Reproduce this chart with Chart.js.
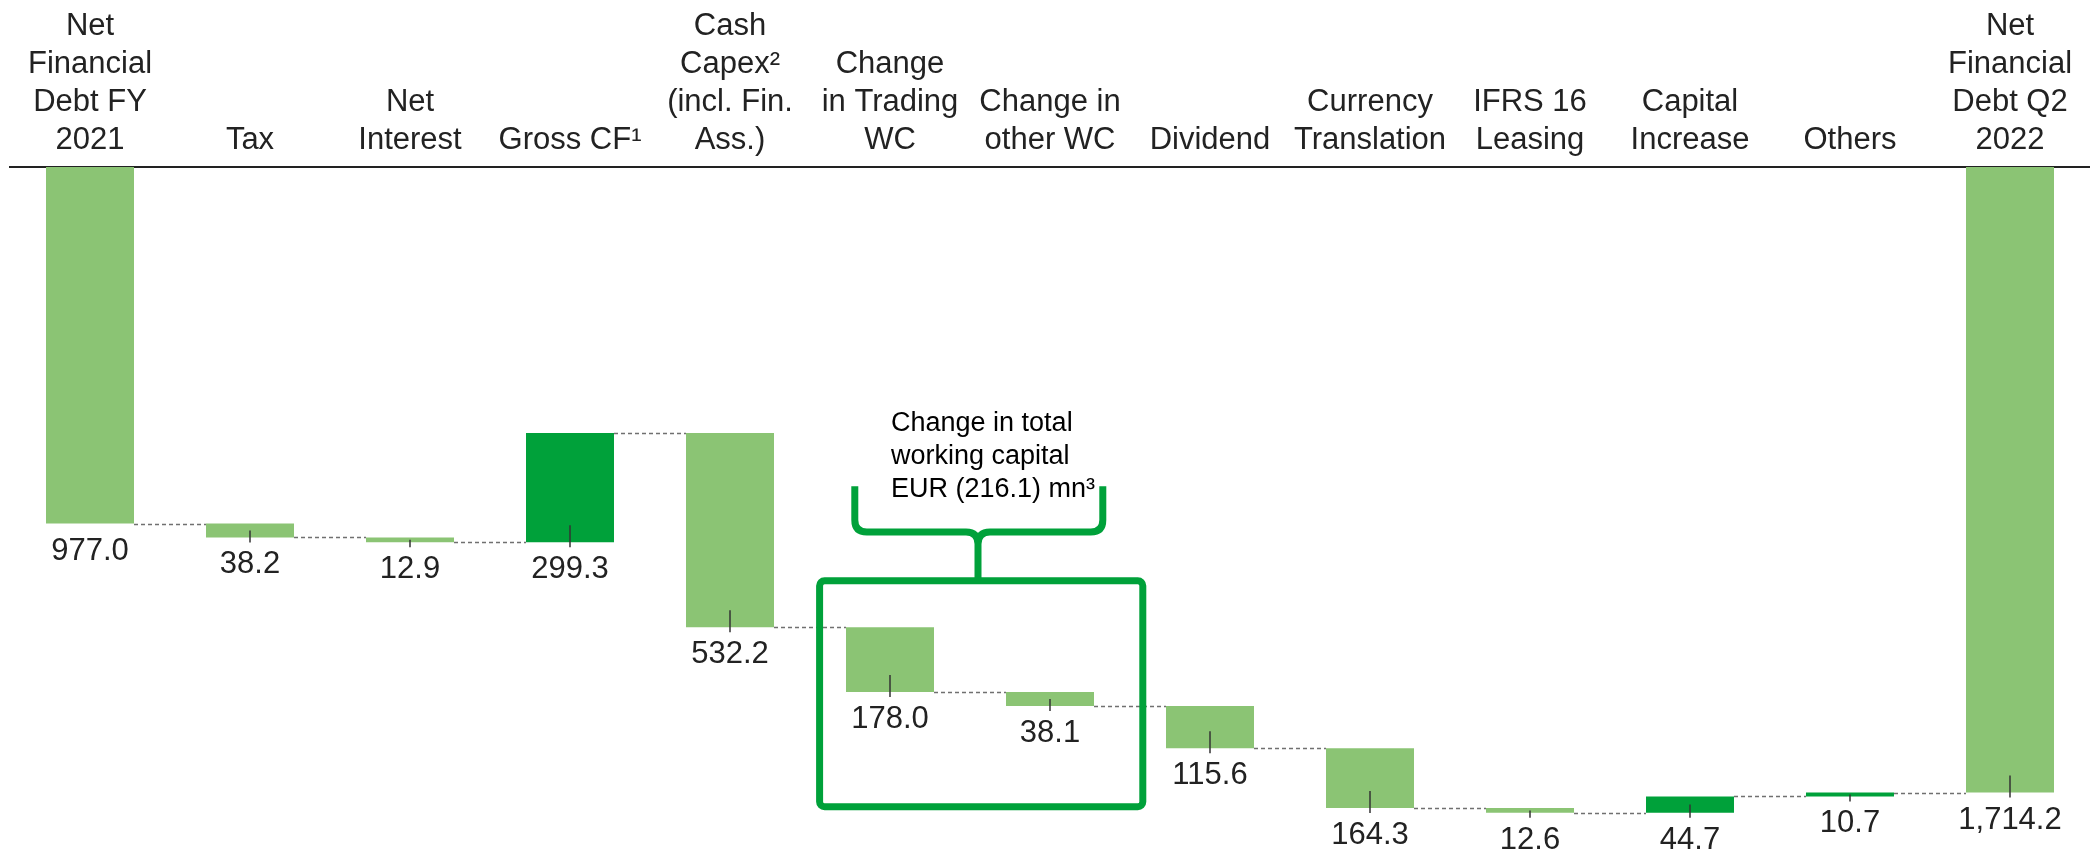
<!DOCTYPE html>
<html>
<head>
<meta charset="utf-8">
<script src="https://cdn.jsdelivr.net/npm/chart.js@4.4.1/dist/chart.umd.min.js"></script>
<style>
  html, body { margin: 0; padding: 0; background: #fff; }
  #wrap { width: 2090px; height: 853px; }
</style>
</head>
<body>
<div id="wrap"><canvas id="bridge"></canvas></div>
<script>
// ==========================
// Data : net financial debt bridge (EUR mn)
// ==========================
const categories = [
  ["Net", "Financial", "Debt FY", "2021"],
  ["Tax"],
  ["Net", "Interest"],
  ["Gross CF¹"],
  ["Cash", "Capex²", "(incl. Fin.", "Ass.)"],
  ["Change", "in Trading", "WC"],
  ["Change in", "other WC"],
  ["Dividend"],
  ["Currency", "Translation"],
  ["IFRS 16", "Leasing"],
  ["Capital", "Increase"],
  ["Others"],
  ["Net", "Financial", "Debt Q2", "2022"]
];
// + = debt goes up, - = debt goes down
const variations = [977.0, 38.2, 12.9, -299.3, 532.2, 178.0, 38.1, 115.6, 164.3, 12.6, -44.7, -10.7, 1714.2];
const valueLabels = ["977.0", "38.2", "12.9", "299.3", "532.2", "178.0", "38.1", "115.6", "164.3", "12.6", "44.7", "10.7", "1,714.2"];
const totalIdx = [0, 12];

const noteLines = ["Change in total", "working capital", "EUR (216.1) mn³"];

const lightGreen = "#8bc474";
const darkGreen = "#00a13a";

// ==========================
// Floating bars from running total
// ==========================
const bars = [];
let cumul = 0;
variations.forEach((v, i) => {
  if (totalIdx.includes(i)) {
    bars.push([0, v]);
    cumul = v;
  } else {
    bars.push([cumul, cumul + v]);
    cumul += v;
  }
});
const barColors = variations.map(v => v < 0 ? darkGreen : lightGreen);

// ==========================
// Box + brace around the WC bars (category index / value units)
// ==========================
const wcBox = { x0: 4.56, x1: 6.58, top: 1134, bottom: 1753 };
const wcBrace = { x0: 4.78, x1: 6.33, mid: 5.55, top: 875, bar: 1000 };

const bridgeDecor = {
  id: "bridgeDecor",
  afterDatasetsDraw(chart) {
    const { ctx, scales: { x, y } } = chart;
    const meta = chart.getDatasetMeta(0);
    ctx.save();

    // dashed connectors
    ctx.setLineDash([4, 3]);
    ctx.lineWidth = 1.5;
    ctx.strokeStyle = "#707070";
    for (let i = 0; i < bars.length - 1; i++) {
      const a = meta.data[i], b = meta.data[i + 1];
      const lvl = Math.round(y.getPixelForValue(bars[i][1])) + 0.5;
      ctx.beginPath();
      ctx.moveTo(a.x + a.width / 2, lvl);
      ctx.lineTo(b.x - b.width / 2, lvl);
      ctx.stroke();
    }
    ctx.setLineDash([]);

    // small ticks + value labels under each bar
    ctx.font = "31px 'Liberation Sans', Arial, sans-serif";
    ctx.textAlign = "center";
    ctx.textBaseline = "alphabetic";
    bars.forEach((b, i) => {
      const el = meta.data[i];
      const yb = y.getPixelForValue(Math.max(b[0], b[1]));
      const yt = y.getPixelForValue(Math.min(b[0], b[1]));
      if (i > 0) {
        ctx.strokeStyle = "#333";
        ctx.lineWidth = 1.5;
        ctx.beginPath();
        ctx.moveTo(el.x, Math.max(yb - 17, (yb + yt) / 2));
        ctx.lineTo(el.x, yb + 5);
        ctx.stroke();
      }
      ctx.fillStyle = "#222";
      ctx.fillText(valueLabels[i], el.x, yb + 36);
    });

    // box
    ctx.strokeStyle = darkGreen;
    ctx.lineWidth = 7;
    const bx0 = x.getPixelForValue(wcBox.x0), bx1 = x.getPixelForValue(wcBox.x1);
    const by0 = y.getPixelForValue(wcBox.top), by1 = y.getPixelForValue(wcBox.bottom);
    ctx.beginPath();
    ctx.roundRect(bx0, by0, bx1 - bx0, by1 - by0, 5);
    ctx.stroke();

    // brace
    const l = x.getPixelForValue(wcBrace.x0), r = x.getPixelForValue(wcBrace.x1);
    const m = x.getPixelForValue(wcBrace.mid);
    const t = y.getPixelForValue(wcBrace.top), h = y.getPixelForValue(wcBrace.bar);
    const rad = 12;
    ctx.lineJoin = "round";
    ctx.beginPath();
    ctx.moveTo(l, t);
    ctx.lineTo(l, h - rad);
    ctx.quadraticCurveTo(l, h, l + rad, h);
    ctx.lineTo(m - rad, h);
    ctx.quadraticCurveTo(m, h, m, h + rad);
    ctx.lineTo(m, by0);
    ctx.moveTo(r, t);
    ctx.lineTo(r, h - rad);
    ctx.quadraticCurveTo(r, h, r - rad, h);
    ctx.lineTo(m + rad, h);
    ctx.quadraticCurveTo(m, h, m, h + rad);
    ctx.stroke();

    // note text
    ctx.fillStyle = "#000";
    ctx.font = "27px 'Liberation Sans', Arial, sans-serif";
    ctx.textAlign = "left";
    noteLines.forEach((txt, k) => {
      ctx.fillText(txt, m - 87, t - 55 + k * 33);
    });

    ctx.restore();
  }
};

new Chart(document.getElementById("bridge"), {
  type: "bar",
  data: {
    labels: categories,
    datasets: [{
      data: bars,
      backgroundColor: barColors,
      borderWidth: 0,
      categoryPercentage: 1,
      barPercentage: 0.55
    }]
  },
  options: {
    responsive: true,
    maintainAspectRatio: false,
    animation: false,
    layout: { padding: { left: 10, right: 0, top: 0, bottom: 0 } },
    plugins: { legend: { display: false }, tooltip: { enabled: false } },
    scales: {
      x: {
        position: "top",
        grid: { display: false, drawTicks: false },
        border: { display: true, color: "#222", width: 2 },
        ticks: {
          color: "#222",
          padding: 7.5,
          autoSkip: false,
          maxRotation: 0,
          font: { family: "'Liberation Sans', Arial, sans-serif", size: 31, lineHeight: "38px" }
        }
      },
      y: {
        display: false,
        reverse: true,
        min: 0,
        max: 1880
      }
    }
  },
  plugins: [bridgeDecor]
});
</script>
</body>
</html>
